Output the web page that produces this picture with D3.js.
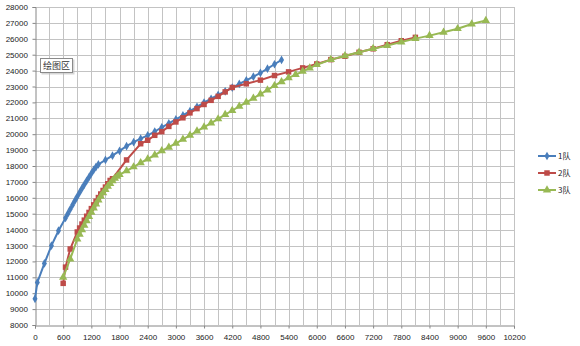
<!DOCTYPE html>
<html>
<head>
<meta charset="utf-8">
<script src="https://d3js.org/d3.v7.min.js"></script>
<style>
  body { margin: 0; background: #fff; }
  text { font-family: "Liberation Sans", Arial, sans-serif; }
</style>
</head>
<body>
<script>
// team 1 (blue)
var team1X = [0, 50, 200, 350, 500, 650, 700, 750, 800, 850, 900, 950, 1000, 1050, 1100, 1150, 1200, 1250, 1300, 1350,
  1500, 1650, 1800, 1950, 2100, 2250, 2400, 2550, 2700, 2850, 3000, 3150, 3300, 3450, 3600, 3750, 3900, 4050, 4200,
  4350, 4500, 4650, 4800, 4950, 5100, 5250];
var team1Y = [9650, 10680, 11870, 12990, 13930, 14730, 15000, 15280, 15550, 15820, 16080, 16340, 16590, 16830, 17070, 17300, 17530, 17750, 17950, 18100,
  18380, 18650, 18950, 19250, 19500, 19720, 19920, 20170, 20430, 20680, 20930, 21180, 21450, 21720, 21990, 22230, 22470, 22700, 22930,
  23160, 23390, 23620, 23850, 24120, 24400, 24670];
// team 2 (red)
var team2X = [600, 650, 750, 900, 950, 1000, 1050, 1100, 1150, 1200, 1250, 1300, 1350, 1400, 1450, 1500, 1550, 1600, 1650,
  1950, 2250, 2400, 2550, 2700, 2850, 3000, 3150, 3300, 3450, 3600, 3750, 3900, 4050, 4200,
  4500, 4800, 5100, 5400, 5700, 6000, 6300, 6600, 6900, 7200, 7500, 7800, 8100];
var team2Y = [10620, 11640, 12780, 13850, 14100, 14350, 14595, 14840, 15080, 15320, 15555, 15785, 16015, 16240, 16460, 16675, 16885, 17090, 17200,
  18380, 19400, 19620, 19930, 20160, 20490, 20770, 21030, 21340, 21610, 21870, 22130, 22380, 22660, 22940,
  23170, 23400, 23690, 23920, 24170, 24420, 24690, 24900, 25150, 25370, 25630, 25880, 26090];
// team 3 (green)
var team3X = [600, 750, 900, 950, 1000, 1050, 1100, 1150, 1200, 1250, 1300, 1350, 1400, 1450, 1500, 1550, 1600, 1650, 1700, 1750, 1800,
  1950, 2100, 2250, 2400, 2550, 2700, 2850, 3000, 3150, 3300, 3450, 3600, 3750, 3900, 4050, 4200, 4350, 4500, 4650, 4800,
  4950, 5100, 5250, 5400, 5550, 5700, 5850, 6000,
  6300, 6600, 6900, 7200, 7500, 7800, 8100, 8400, 8700, 9000, 9300, 9600];
var team3Y = [11000, 12150, 13400, 13700, 13990, 14270, 14550, 14820, 15090, 15350, 15600, 15850, 16090, 16310, 16520, 16720, 16900, 17070, 17220, 17350, 17460,
  17700, 17940, 18200, 18440, 18690, 18950, 19180, 19430, 19680, 19930, 20190, 20450, 20700, 20960, 21230, 21490, 21750, 22000, 22260, 22520,
  22780, 23050, 23300, 23540, 23750, 23950, 24160, 24370,
  24690, 24930, 25150, 25380, 25570, 25800, 26010, 26200, 26410, 26635, 26930, 27150];

var names = ['1队', '2队', '3队'];
var colors = ['#4a7ebb', '#be4b48', '#98b954'];
var xTicks = [0, 600, 1200, 1800, 2400, 3000, 3600, 4200, 4800, 5400, 6000, 6600, 7200, 7800, 8400, 9000, 9600, 10200];
var xMinor = [300, 900, 1500, 2100, 2700, 3300, 3900, 4500, 5100, 5700, 6300, 6900, 7500, 8100, 8700, 9300, 9900];
var yTicks = [8000, 9000, 10000, 11000, 12000, 13000, 14000, 15000, 16000, 17000, 18000, 19000, 20000,
  21000, 22000, 23000, 24000, 25000, 26000, 27000, 28000];

var width = 580, height = 346;

var svg = d3.select('body').append('svg')
  .attr('width', width)
  .attr('height', height);

var x = d3.scaleLinear().domain([0, 10200]).range([35, 514]);
var y = d3.scaleLinear().domain([8000, 28000]).range([325, 7]);

// gridlines
var grid = svg.append('g').attr('stroke', '#c3c3c3').attr('stroke-width', 1);
grid.selectAll('.gx')
  .data(xTicks.concat(xMinor).filter(d => d > 0))
  .enter().append('line')
  .attr('x1', d => Math.round(x(d)) + 0.5).attr('x2', d => Math.round(x(d)) + 0.5)
  .attr('y1', y(28000)).attr('y2', y(8000));
grid.selectAll('.gy')
  .data(yTicks.filter(d => d > 8000))
  .enter().append('line')
  .attr('x1', x(0)).attr('x2', x(10200))
  .attr('y1', d => Math.round(y(d)) + 0.5).attr('y2', d => Math.round(y(d)) + 0.5);

// axes
var xAxis = d3.axisBottom(x).tickValues(xTicks).tickSize(3).tickFormat(d => d);
var yAxis = d3.axisLeft(y).tickValues(yTicks).tickSize(3).tickFormat(d => d);

var gx = svg.append('g')
  .attr('transform', 'translate(0,' + (Math.round(y(8000)) + 0.5) + ')')
  .call(xAxis);
var gy = svg.append('g')
  .attr('transform', 'translate(' + (Math.round(x(0)) + 0.5) + ',0)')
  .call(yAxis);

[gx, gy].forEach(function (g) {
  g.select('.domain').attr('stroke', '#868686');
  g.selectAll('.tick line').attr('stroke', '#868686');
  g.selectAll('.tick text').attr('fill', '#222').style('font-size', '8px');
});
gx.selectAll('.tick text').attr('dy', '1.1em');
gy.selectAll('.tick text').attr('dx', '-0.2em');

// series
var series = [
  team1X.map((d, i) => [d, team1Y[i]]),
  team2X.map((d, i) => [d, team2Y[i]]),
  team3X.map((d, i) => [d, team3Y[i]])
];
var symbols = [d3.symbolDiamond, d3.symbolSquare, d3.symbolTriangle];
var sizes = [22, 30, 30];

var line = d3.line().x(d => x(d[0])).y(d => y(d[1]));

series.forEach(function (pts, k) {
  var g = svg.append('g');
  g.append('path')
    .datum(pts)
    .attr('d', line)
    .attr('fill', 'none')
    .attr('stroke', colors[k])
    .attr('stroke-width', 2);
  g.selectAll('path.m')
    .data(pts)
    .enter().append('path')
    .attr('class', 'm')
    .attr('d', d3.symbol().type(symbols[k]).size(sizes[k]))
    .attr('transform', d => 'translate(' + x(d[0]) + ',' + y(d[1]) + ')')
    .attr('fill', colors[k]);
});

// legend
var legend = svg.append('g').attr('transform', 'translate(538,156)');
names.forEach(function (n, k) {
  var row = legend.append('g').attr('transform', 'translate(0,' + (k * 17) + ')');
  row.append('line')
    .attr('x1', 0).attr('x2', 18).attr('y1', 0).attr('y2', 0)
    .attr('stroke', colors[k]).attr('stroke-width', 2);
  row.append('path')
    .attr('d', d3.symbol().type(symbols[k]).size(sizes[k]))
    .attr('transform', 'translate(9,0)')
    .attr('fill', colors[k]);
  row.append('text')
    .attr('x', 20).attr('y', 3)
    .style('font-size', '8px')
    .style('font-family', '"Noto Sans CJK SC", sans-serif')
    .attr('fill', '#222')
    .text(n);
});

// plot-area tooltip
var tip = svg.append('g').attr('transform', 'translate(40,58)');
tip.append('rect')
  .attr('x', 1.5).attr('y', 1.5).attr('width', 33).attr('height', 15)
  .attr('fill', '#bbb').attr('opacity', 0.6);
tip.append('rect')
  .attr('x', 0.5).attr('y', 0.5).attr('width', 32).attr('height', 14)
  .attr('fill', '#fff').attr('stroke', '#8a8a8a');
tip.append('text')
  .attr('x', 16.5).attr('y', 11)
  .attr('text-anchor', 'middle')
  .style('font-size', '9px')
  .style('font-family', '"Noto Sans CJK SC", sans-serif')
  .attr('fill', '#333')
  .text('绘图区');
</script>
</body>
</html>
